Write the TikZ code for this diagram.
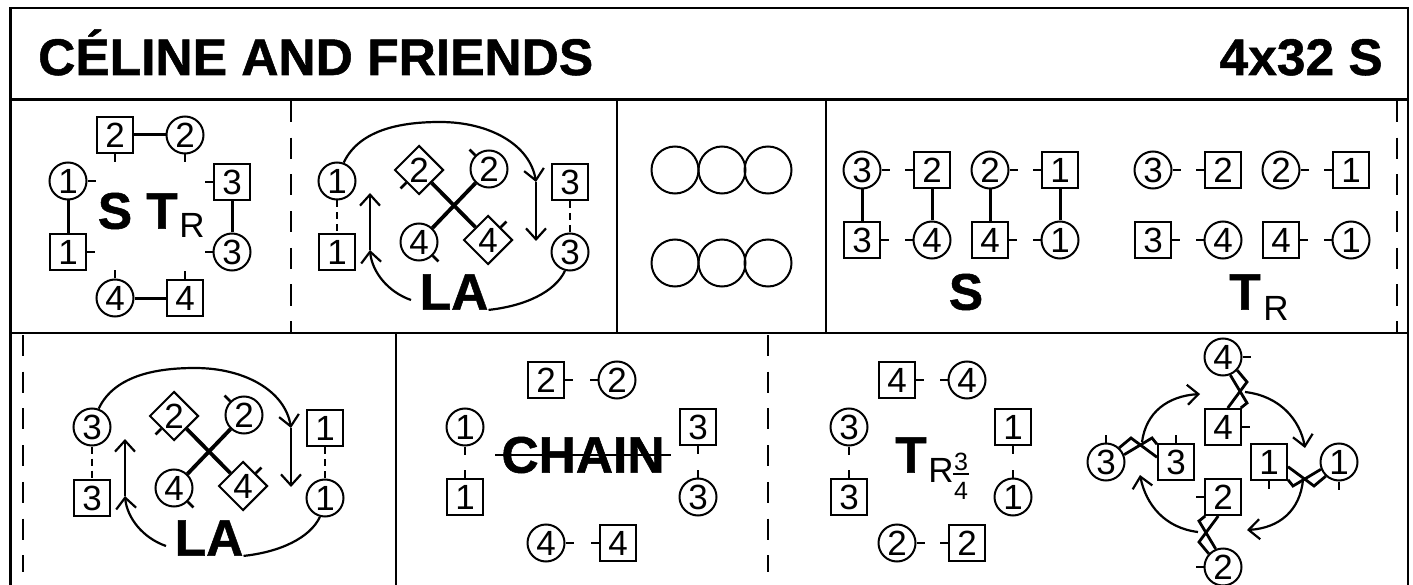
\documentclass[tikz,border=0pt]{standalone}
\usepackage{fontspec}
\setmainfont{Liberation Sans}[BoldFeatures={FakeBold=1}]
\usetikzlibrary{arrows.meta,calc,shapes.geometric}
\begin{document}
\begin{tikzpicture}[x=1pt,y=-1pt,
  >={Straight Barb[length=11pt,width=20pt]},
  frame/.style={line width=2.6pt},
  phrase/.style={line width=2.2pt,dash pattern=on 21pt off 15.7pt},
  lady/.style={circle,draw,fill=white,line width=2pt,minimum size=37pt,inner sep=0pt,font=\fontsize{35}{35}\selectfont},
  man/.style={rectangle,draw,fill=white,line width=2pt,minimum size=36pt,inner sep=0pt,font=\fontsize{35}{35}\selectfont},
  dia/.style={diamond,draw,fill=white,line width=2pt,minimum width=49pt,minimum height=49pt,inner sep=0pt,font=\fontsize{35}{35}\selectfont},
  ring/.style={circle,draw,line width=2pt,minimum size=47pt,inner sep=0pt},
  stub/.style={line width=2.8pt},
  hand/.style={line width=3pt},
  loose/.style={line width=2pt,dash pattern=on 7pt off 5pt},
  cross/.style={line width=3.8pt},
  strand/.style={line width=2.8pt,line join=miter},
  path/.style={line width=2.2pt},
  big/.style={inner sep=0pt,font=\bfseries\fontsize{51.5}{52}\selectfont},
  sub/.style={inner sep=0pt,font=\fontsize{35}{35}\selectfont},
  tiny/.style={inner sep=0pt,font=\fontsize{25}{25}\selectfont}]
  \useasboundingbox (0,0) rectangle (1413,585);

  \def\pin(#1)[#2]{\draw[stub] (#1.#2) -- ++(#2:8pt);}

  \def\swing(#1)(#2)[#3]{%
    \begin{scope}[shift={($(#1)!0.5!(#2)$)},rotate=-#3]
      \pgfmathsetmacro\ao{47-#3}
      \pgfmathsetmacro\at{22-#3}
      \pgfmathsetmacro\bo{166-#3}
      \pgfmathsetmacro\bt{137-#3}
      \draw[strand] (#1.\ao) -- (-10,-24) -- (#2.\bo);
      \draw[strand] (#1.\at) -- (11,-24) -- (#2.\bt);
    \end{scope}
  }

  \def\lafig(#1)#2#3#4{%
    \begin{scope}[shift={(#1)}]
      \node[lady] (#2cl) at (337,181) {#3};
      \node[man] (#2sl) at (337,252) {#3};
      \node[man] (#2sr) at (570,182) {#4};
      \node[lady] (#2cr) at (570,252) {#4};
      \draw[loose] (#2cl) -- (#2sl);
      \draw[loose] (#2sr) -- (#2cr);
      \node[dia] (#2da) at (419,170) {2};
      \node[lady] (#2ca) at (489,169) {2};
      \node[lady] (#2cb) at (419,242) {4};
      \node[dia] (#2db) at (488,240) {4};
      \draw[cross] (#2da) -- (#2db);
      \draw[cross] (#2ca) -- (#2cb);
      \pin(#2da)[-135]
      \pin(#2ca)[135]
      \pin(#2cb)[-45]
      \pin(#2db)[45]
      \node[big] (#2la) at (454,292) {LA};
      \coordinate (#2p1) at (536,182);
      \coordinate (#2p2) at (536,241);
      \coordinate (#2p3) at (411,300);
      \coordinate (#2p4) at (370,250);
      \coordinate (#2p5) at (370,193);
      \draw[path,->] (#2cl.70) .. controls (360,128) and (405,122) .. (440,122)
        .. controls (490,122) and (530,145) .. (#2p1);
      \draw[path,->] (#2p1) -- (#2p2);
      \draw[path] (#2cr.-105) .. controls (555,292) and (525,306) .. (#2la.south east);
      \draw[path,->] (#2p3) .. controls (388,292) and (372,272) .. (#2p4);
      \draw[path,->] (#2p4) -- (#2p5);
    \end{scope}
  }

  \draw[frame] (10.5,585) -- (10.5,8) -- (1408,8) -- (1408,585);
  \draw[frame] (10.5,99.5) -- (1408,99.5) (10.5,333) -- (1408,333);
  \draw[frame] (617,99.5) -- (617,333) (826,99.5) -- (826,333) (396,333) -- (396,585);
  \draw[phrase] (291,101) -- (291,333);
  \draw[phrase] (1397,101) -- (1397,333);
  \draw[phrase] (23,335) -- (23,572);
  \draw[phrase] (768,335) -- (768,572);

  \node[big,anchor=base west] (title) at (38,75) {CÉLINE AND FRIENDS};
  \node[big,anchor=base east] (form) at (1383,75) {4x32 S};

  % first bar: set and turn
  \node[man] (as2) at (115,135) {2};
  \node[lady] (ac2) at (185,135) {2};
  \node[lady] (ac1) at (68,181) {1};
  \node[man] (as1) at (68,252) {1};
  \node[man] (as3) at (232,182) {3};
  \node[lady] (ac3) at (232,252) {3};
  \node[lady] (ac4) at (115,298) {4};
  \node[man] (as4) at (185,298) {4};
  \draw[hand] (as2) -- (ac2);
  \draw[hand] (ac1) -- (as1);
  \draw[hand] (as3) -- (ac3);
  \draw[hand] (ac4) -- (as4);
  \pin(as2)[-90]
  \pin(ac2)[-90]
  \pin(ac1)[0]
  \pin(as1)[0]
  \pin(as3)[180]
  \pin(ac3)[180]
  \pin(ac4)[90]
  \pin(as4)[90]
  \node[big] (as) at (115,211) {S};
  \node[big] (at) at (162,211) {T};
  \node[sub] (ar) at (192,225) {R};

  \lafig(0,0){b}{1}{3}

  \node[ring] (ra) at (675,170) {};
  \node[ring] (rb) at (722,170) {};
  \node[ring] (rc) at (768,170) {};
  \node[ring] (rd) at (675,263) {};
  \node[ring] (re) at (722,263) {};
  \node[ring] (rf) at (768,263) {};

  % lines of four
  \node[lady] (dc3) at (862,170) {3};
  \node[man] (ds2) at (932,170) {2};
  \node[lady] (dc2) at (990,170) {2};
  \node[man] (ds1) at (1060,170) {1};
  \node[man] (ds3) at (862,240) {3};
  \node[lady] (dc4) at (932,240) {4};
  \node[man] (ds4) at (990,240) {4};
  \node[lady] (dc1) at (1060,240) {1};
  \draw[hand] (dc3) -- (ds3);
  \draw[hand] (ds2) -- (dc4);
  \draw[hand] (dc2) -- (ds4);
  \draw[hand] (ds1) -- (dc1);
  \pin(dc3)[0]
  \pin(ds2)[180]
  \pin(dc2)[0]
  \pin(ds1)[180]
  \pin(ds3)[0]
  \pin(dc4)[180]
  \pin(ds4)[0]
  \pin(dc1)[180]
  \node[big] (ds) at (966,292) {S};

  \node[lady] (ec3) at (1153,170) {3};
  \node[man] (es2) at (1223,170) {2};
  \node[lady] (ec2) at (1281,170) {2};
  \node[man] (es1) at (1351,170) {1};
  \node[man] (es3) at (1153,240) {3};
  \node[lady] (ec4) at (1223,240) {4};
  \node[man] (es4) at (1281,240) {4};
  \node[lady] (ec1) at (1351,240) {1};
  \pin(ec3)[0]
  \pin(es2)[180]
  \pin(ec2)[0]
  \pin(es1)[180]
  \pin(es3)[0]
  \pin(ec4)[180]
  \pin(es4)[0]
  \pin(ec1)[180]
  \node[big] (et) at (1245,292) {T};
  \node[sub] (er) at (1276,308) {R};

  \lafig(-245,246){f}{3}{1}

  % chain
  \node[man] (gs2) at (546,380) {2};
  \node[lady] (gc2) at (617,380) {2};
  \node[lady] (gc1) at (465,427) {1};
  \node[man] (gs1) at (465,497) {1};
  \node[man] (gs3) at (698,427) {3};
  \node[lady] (gc3) at (698,497) {3};
  \node[lady] (gc4) at (546,543) {4};
  \node[man] (gs4) at (618,543) {4};
  \pin(gs2)[0]
  \pin(gc2)[180]
  \pin(gc1)[-90]
  \pin(gs1)[90]
  \pin(gs3)[-90]
  \pin(gc3)[90]
  \pin(gc4)[0]
  \pin(gs4)[180]
  \node[big] (chain) at (583,455) {CHAIN};
  \draw[stub] ([xshift=-6pt]chain.west) -- ([xshift=6pt]chain.east);

  % three quarter turn
  \node[man] (hs4) at (897,380) {4};
  \node[lady] (hc4) at (967,380) {4};
  \node[lady] (hc3) at (849,427) {3};
  \node[man] (hs3) at (849,497) {3};
  \node[man] (hs1) at (1013,427) {1};
  \node[lady] (hc1) at (1013,497) {1};
  \node[lady] (hc2) at (897,543) {2};
  \node[man] (hs2) at (967,543) {2};
  \pin(hs4)[0]
  \pin(hc4)[180]
  \pin(hc3)[-90]
  \pin(hs3)[90]
  \pin(hs1)[-90]
  \pin(hc1)[90]
  \pin(hc2)[0]
  \pin(hs2)[180]
  \node[big] (ht) at (911,455) {T};
  \node[sub] (hr) at (941,470) {R};
  \node[tiny] (hn) at (961,462) {3};
  \node[tiny] (hd) at (961,491) {4};
  \draw[line width=1.2pt] ([xshift=-1pt,yshift=-3pt]hn.south west) -- ([xshift=1pt,yshift=-3pt]hn.south east);

  % turns
  \node[lady] (kc4) at (1223,357) {4};
  \node[man] (ks4) at (1223,427) {4};
  \node[lady] (kc3) at (1106,462) {3};
  \node[man] (ks3) at (1176,462) {3};
  \node[man] (ks1) at (1269,462) {1};
  \node[lady] (kc1) at (1339,462) {1};
  \node[man] (ks2) at (1223,497) {2};
  \node[lady] (kc2) at (1223,567) {2};
  \pin(kc4)[0]
  \pin(ks4)[0]
  \pin(kc3)[90]
  \pin(ks3)[90]
  \pin(ks1)[-90]
  \pin(kc1)[-90]
  \pin(ks2)[180]
  \pin(kc2)[180]
  \swing(kc3)(ks3)[0]
  \swing(kc4)(ks4)[90]
  \swing(kc1)(ks1)[180]
  \swing(kc2)(ks2)[270]
  \coordinate (ka1) at (1245,392);
  \coordinate (ka2) at (1305,448);
  \coordinate (kb1) at (1303,480);
  \coordinate (kb2) at (1247,530);
  \coordinate (kc1e) at (1198,532);
  \coordinate (kc2e) at (1140,475);
  \coordinate (kd1) at (1142,442);
  \coordinate (kd2) at (1200,394);
  \draw[path,->] (ka1) .. controls (1280,396) and (1300,420) .. (ka2);
  \draw[path,->] (kb1) .. controls (1300,510) and (1280,528) .. (kb2);
  \draw[path,->] (kc1e) .. controls (1165,528) and (1146,505) .. (kc2e);
  \draw[path,->] (kd1) .. controls (1146,412) and (1168,396) .. (kd2);
\end{tikzpicture}
\end{document}
